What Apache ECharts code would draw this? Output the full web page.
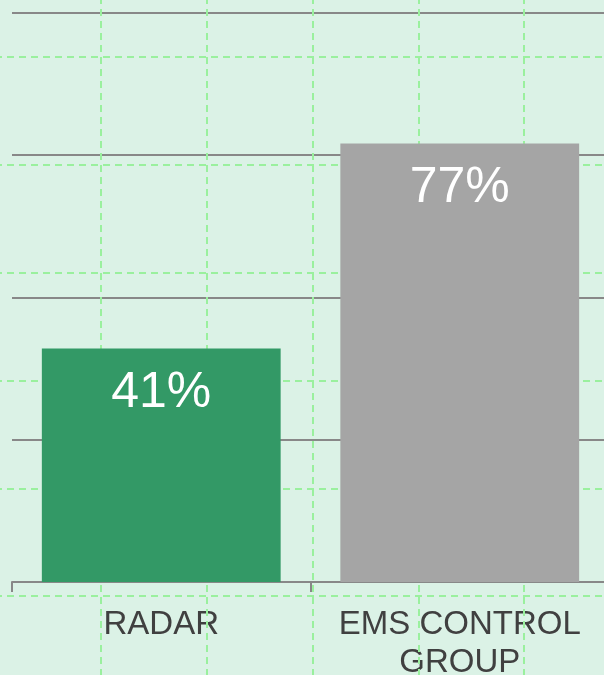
<!DOCTYPE html>
<html>
<head>
<meta charset="utf-8">
<script src="https://cdn.jsdelivr.net/npm/echarts@6/dist/echarts.min.js"></script>
<style>
  html, body { margin: 0; padding: 0; background: #dbf2e6; }
  #mychart { width: 604px; height: 675px; }
</style>
</head>
<body>
<div id="mychart"></div>
<script>
// data
const categories = ['RADAR', 'EMS CONTROL\nGROUP']
const values = [41, 77]
const barColors = ['#339966', '#a5a5a5']
// background pattern: plain index ticks for the dashed lattice
const patternX = [0, 6]
const patternY = [0, 7]

let myChart = echarts.init(document.getElementById('mychart'))

let option = {
  backgroundColor: '#dbf2e6',
  animation: false,
  grid: [
    { left: 12, right: -5, top: 12.5, bottom: 93, outerBoundsMode: 'none', containLabel: false },
    { left: -5, right: -26, top: -51, bottom: -29, outerBoundsMode: 'none', containLabel: false }
  ],
  xAxis: [
    {
      type: 'category',
      gridIndex: 0,
      data: categories,
      axisLine: { lineStyle: { color: '#888888', width: 2 } },
      axisTick: { show: true, length: 10, lineStyle: { color: '#888888', width: 2 } },
      axisLabel: {
        color: '#404040',
        fontFamily: 'Liberation Sans',
        fontSize: 33,
        lineHeight: 38,
        margin: 24,
        interval: 0
      },
      z: 0
    },
    {
      type: 'value',
      gridIndex: 1,
      min: patternX[0],
      max: patternX[1],
      interval: 1,
      axisLine: { show: false },
      axisTick: { show: false },
      axisLabel: { show: false },
      splitLine: { show: true, lineStyle: { color: '#9af09e', width: 2, type: [7, 5] } },
      z: 3
    }
  ],
  yAxis: [
    {
      type: 'value',
      gridIndex: 0,
      min: 0,
      max: 100,
      interval: 25,
      axisLine: { show: false },
      axisTick: { show: false },
      axisLabel: { show: false },
      splitLine: { lineStyle: { color: '#888888', width: 2 } },
      z: 0
    },
    {
      type: 'value',
      gridIndex: 1,
      min: patternY[0],
      max: patternY[1],
      interval: 1,
      axisLine: { show: false },
      axisTick: { show: false },
      axisLabel: { show: false },
      splitLine: { show: true, lineStyle: { color: '#9af09e', width: 2, type: [7, 5] } },
      z: 3
    }
  ],
  series: [
    {
      type: 'bar',
      xAxisIndex: 0,
      yAxisIndex: 0,
      barWidth: '80%',
      z: 5,
      data: values.map((v, i) => ({ value: v, itemStyle: { color: barColors[i] } })),
      label: {
        show: true,
        position: 'insideTop',
        distance: 20,
        color: '#ffffff',
        fontFamily: 'Liberation Sans',
        fontSize: 50,
        formatter: '{c}%'
      }
    }
  ]
}

myChart.setOption(option)
</script>
</body>
</html>
